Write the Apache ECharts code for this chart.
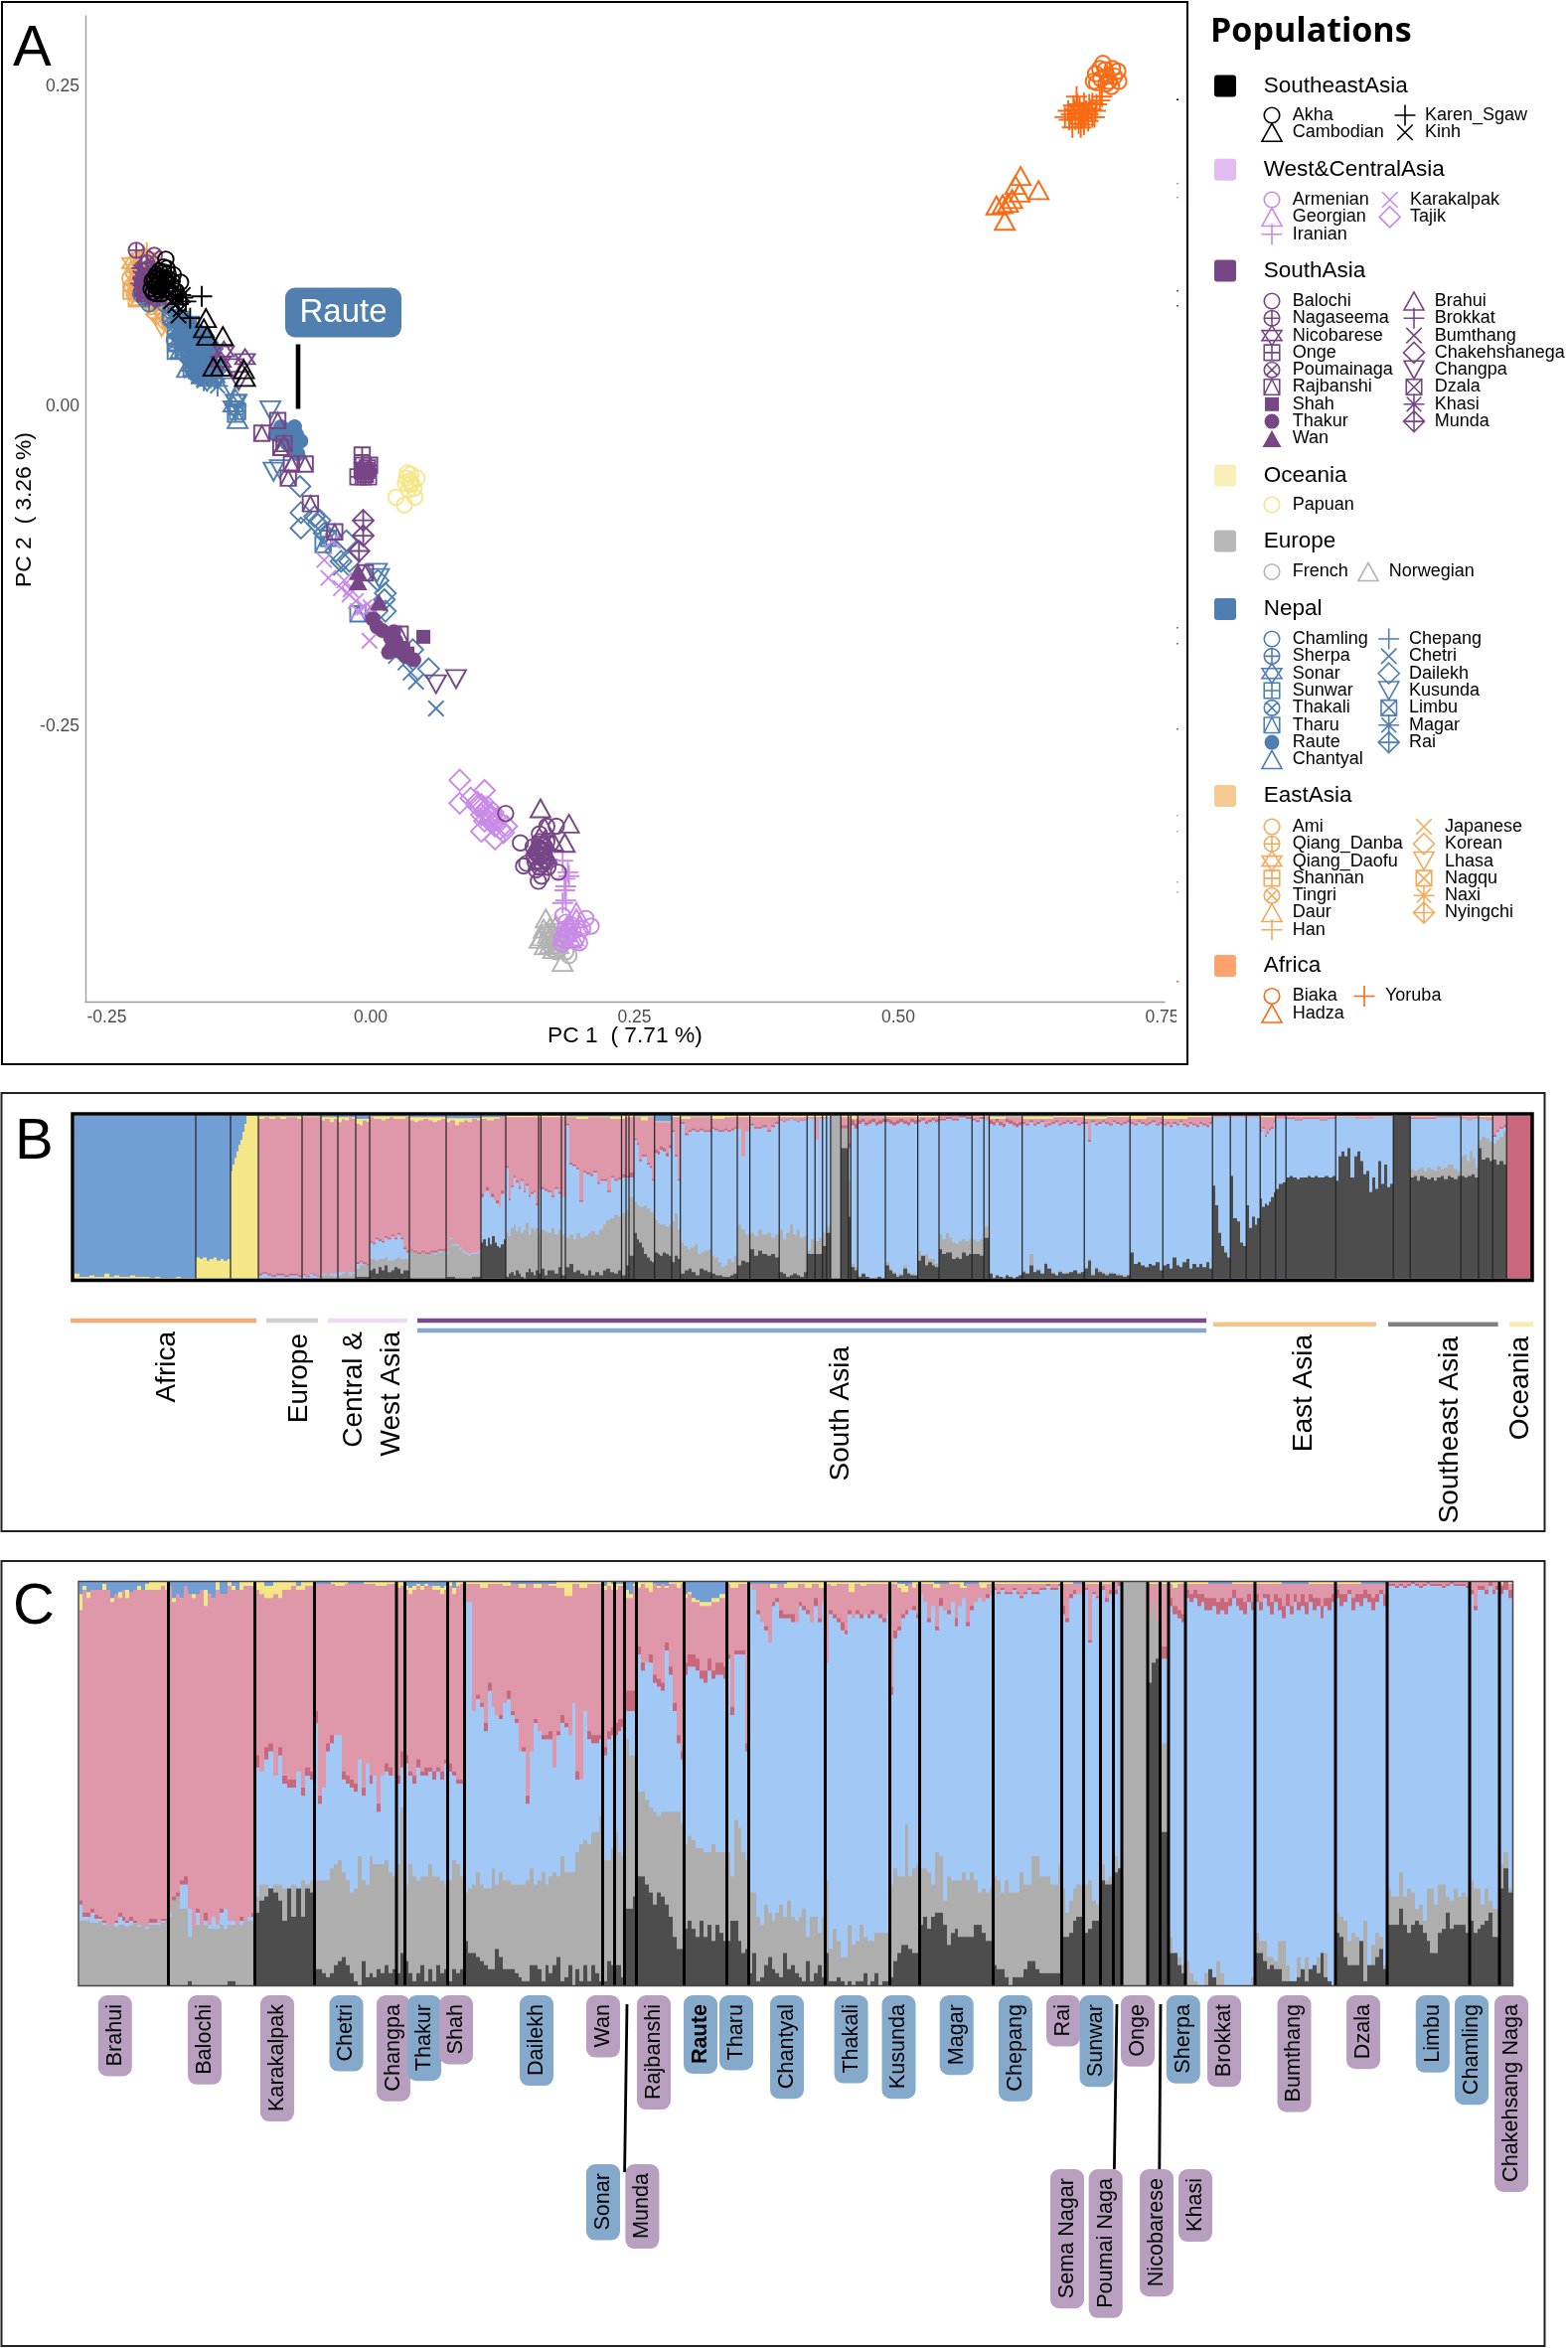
<!DOCTYPE html>
<html><head><meta charset="utf-8">
<script src="https://cdn.jsdelivr.net/npm/echarts@6/dist/echarts.min.js"></script>
<style>html,body{margin:0;padding:0;background:#fff}#c{width:1578px;height:2363px}</style></head>
<body><div id="c"></div><script>
// ---------- Panel A: PC1 / PC2 values per population ----------
const Akha=[[-.194,.115],[-.203,.103],[-.196,.101],[-.2,.106],[-.193,.098],[-.203,.088],[-.189,.095],[-.18,.097],[-.207,.098],[-.198,.093],[-.187,.103],[-.196,.109],[-.2,.096],[-.192,.104],[-.205,.1],[-.202,.096],[-.199,.1],[-.197,.095],[-.195,.098],[-.2,.091],[-.204,.094],[-.208,.092],[-.206,.089],[-.198,.088],[-.194,.092],[-.192,.1],[-.19,.09],[-.201,.102],[-.196,.105],[-.193,.108],[-.188,.098],[-.184,.09]];
const Cambodian=[[-.156,.069],[-.158,.061],[-.14,.055],[-.155,.055],[-.142,.031],[-.149,.031],[-.12,.029],[-.119,.023]];
const Karen_Sgaw=[[-.16,.086],[-.178,.085],[-.187,.09],[-.18,.087],[-.171,.069],[-.175,.082],[-.185,.086],[-.182,.08]];
const Kinh=[[-.185,.079],[-.178,.087],[-.189,.082],[-.182,.071],[-.185,.085],[-.18,.076]];
const Armenian=[[.204,-.40],[.209,-.406],[.181,-.42],[.182,-.398],[.195,-.416],[.188,-.41],[.198,-.419],[.185,-.403],[.201,-.408],[.181,-.416],[.19,-.405],[.186,-.415],[.192,-.41],[.184,-.408]];
const Georgian=[[.195,-.395],[.188,-.405],[.192,-.414],[.185,-.411],[.198,-.405],[.195,-.40],[.186,-.406],[.19,-.416],[.183,-.414]];
const Iranian=[[.184,-.369],[.182,-.388],[.187,-.364],[.185,-.375],[.168,-.354],[.185,-.386],[.182,-.355],[.188,-.367],[.184,-.378]];
const Karakalpak=[[-.036,-.105],[-.044,-.12],[-.04,-.134],[-.028,-.142],[-.02,-.147],[-.025,-.136],[-.014,-.152],[-.006,-.157],[-.012,-.16],[-.001,-.183],[0,-.157],[-.019,-.143]];
const Tajik=[[.0845,-.292],[.0845,-.31],[.108,-.3],[.101,-.309],[.105,-.311],[.11,-.318],[.115,-.32],[.105,-.332],[.118,-.338],[.126,-.333],[.129,-.328],[.121,-.323],[.113,-.324],[.101,-.312],[.108,-.316],[.116,-.317],[.111,-.313],[.105,-.319],[.095,-.306],[.112,-.32],[.118,-.328],[.108,-.324],[.123,-.33]];
const Balochi=[[.128,-.318],[.142,-.341],[.145,-.359],[.159,-.371],[.162,-.367],[.154,-.344],[.16,-.334],[.176,-.328],[.167,-.328],[.164,-.354],[.148,-.357],[.178,-.364],[.157,-.362],[.162,-.346],[.167,-.34],[.16,-.345],[.155,-.352],[.163,-.358],[.157,-.348],[.168,-.36],[.16,-.34],[.163,-.343],[.158,-.35],[.165,-.347],[.161,-.352],[.156,-.356],[.163,-.35],[.159,-.346],[.166,-.355],[.16,-.36]];
const Nagaseema=[[-.222,.122],[-.212,.112],[-.208,.104],[-.215,.096]];
const Nicobarese=[[-.139,.043],[-.119,.037],[-.142,.035]];
const Onge=[[-.008,-.038],[-.012,-.055],[-.001,-.046],[-.007,-.046],[-.004,-.05],[-.005,-.053],[-.008,-.05],[-.002,-.055],[-.007,-.055],[-.003,-.048],[-.006,-.051]];
const Poumainaga=[[-.205,.118],[-.21,.108],[-.214,.1],[-.2,.094]];
const Rajbanshi=[[-.103,-.021],[-.088,-.011],[-.082,-.029],[-.075,-.045],[-.062,-.045],[-.078,-.056],[-.057,-.076],[-.034,-.098],[-.005,-.13],[.028,-.178],[-.085,-.032]];
const Shah=[[.05,-.18],[.035,-.193],[.031,-.19]];
const Thakur=[[.002,-.166],[.006,-.172],[.011,-.175],[.022,-.176],[.024,-.183],[.017,-.192],[.026,-.191],[.033,-.195],[.041,-.198],[.02,-.188],[.019,-.181]];
const Wan=[[-.012,-.129],[-.012,-.137],[.008,-.153]];
const Brahui=[[.161,-.314],[.188,-.326],[.184,-.341],[.165,-.329],[.162,-.346],[.165,-.339],[.16,-.354],[.157,-.343],[.167,-.35],[.173,-.34]];
const Brokkat=[[-.217,.108],[-.212,.1],[-.207,.092],[-.21,.086],[-.204,.098]];
const Bumthang=[[-.215,.104],[-.209,.096],[-.203,.088],[-.212,.09],[-.198,.082],[-.218,.1],[-.215,.095],[-.212,.105],[-.209,.09],[-.207,.085]];
const Chakehshanega=[[-.214,.11],[-.207,.1],[-.211,.094],[-.205,.086],[-.215,.1],[-.212,.096]];
const Changpa=[[.081,-.213],[.062,-.217],[-.13,.03],[-.125,.02]];
const Dzala=[[-.213,.106],[-.208,.098],[-.212,.088],[-.204,.092],[-.216,.092],[-.214,.088],[-.21,.1],[-.208,.094]];
const Khasi=[[-.216,.1],[-.21,.092],[-.206,.106],[-.2,.086],[-.218,.096],[-.213,.092],[-.208,.088],[-.205,.094]];
const Munda=[[-.007,-.089],[-.007,-.101],[-.011,-.113]];
const Papuan=[[.032,-.077],[.024,-.071],[.042,-.071],[.035,-.052],[.038,-.053],[.044,-.056],[.033,-.06],[.038,-.061],[.041,-.064],[.036,-.065],[.034,-.056],[.037,-.058],[.039,-.06]];
const French=[[.188,-.429],[.176,-.421],[.17,-.417],[.179,-.424],[.182,-.42],[.185,-.426],[.174,-.413],[.177,-.419],[.168,-.41],[.172,-.424],[.178,-.41],[.175,-.418],[.18,-.415],[.172,-.415],[.183,-.412],[.176,-.426],[.169,-.42]];
const Norwegian=[[.182,-.434],[.16,-.416],[.166,-.40],[.172,-.41],[.165,-.421],[.176,-.405],[.173,-.424],[.17,-.407],[.162,-.414],[.168,-.412],[.174,-.416],[.178,-.42],[.164,-.408],[.17,-.42]];
const Chamling=[[-.19,.068],[-.182,.07],[-.176,.058],[-.17,.048],[-.163,.044],[-.157,.04],[-.152,.026]];
const Sherpa=[[-.218,.088],[-.214,.084],[-.21,.08],[-.2,.085],[-.195,.08],[-.19,.075],[-.18,.066],[-.174,.052],[-.168,.028]];
const Sonar=[[-.16,.025],[-.155,.02],[-.128,.005],[-.13,0]];
const Sunwar=[[-.128,-.006],[-.126,-.004],[-.185,.043],[-.16,.033],[-.17,.03]];
const Thakali=[[-.19,.07],[-.18,.058],[-.172,.05],[-.165,.042],[-.158,.036],[-.186,.052]];
const Tharu=[[-.178,.05],[-.012,-.162],[-.045,-.108],[-.04,-.103],[-.165,.028]];
const Raute=[[-.072,-.016],[-.066,-.027],[-.075,-.023],[-.081,-.018],[-.072,-.034],[-.069,-.037],[-.079,-.029],[-.085,-.016],[-.09,-.022],[-.078,-.02],[-.074,-.028],[-.07,-.022],[-.088,-.02]];
const Chantyal=[[-.174,.03],[-.16,.025],[-.148,.026],[-.126,-.01],[-.18,.045]];
const Chepang=[[-.168,.034],[-.156,.044],[-.15,.03],[-.142,.024],[-.17,.046],[-.18,.062],[-.166,.058]];
const Chetri=[[.062,-.236],[.043,-.215],[.038,-.208],[.033,-.2],[.024,-.195],[-.028,-.126],[-.085,-.03],[-.185,.06],[-.176,.05]];
const Dailekh=[[-.067,-.0625],[-.066,-.083],[-.066,-.095],[-.048,-.089],[-.053,-.086],[-.05,-.092],[-.044,-.099],[-.023,-.105],[-.033,-.113],[-.028,-.121],[-.02,-.121],[.014,-.146],[.013,-.151],[.014,-.16],[.04,-.19],[.055,-.205],[.007,-.136],[.006,-.16]];
const Kusunda=[[-.127,.002],[-.095,-.003],[-.092,-.051],[-.086,-.049],[-.133,.015],[.008,-.134],[.006,-.13]];
const Limbu=[[-.185,.06],[-.178,.062],[-.172,.055],[-.165,.05],[-.158,.046],[-.172,.042],[-.165,.038],[-.15,.04],[-.185,.05],[-.18,.068],[-.175,.06],[-.17,.064],[-.165,.056],[-.16,.05],[-.155,.038],[-.148,.03],[-.168,.036],[-.162,.028],[-.156,.024],[-.177,.046],[-.17,.04]];
const Magar=[[-.175,.05],[-.168,.045],[-.16,.04],[-.152,.032],[-.165,.03],[-.158,.028],[-.148,.022],[-.17,.035],[-.155,.035],[-.18,.048],[-.145,.016],[-.162,.052],[-.185,.064],[-.178,.056],[-.172,.06],[-.168,.052],[-.163,.047],[-.159,.05],[-.155,.042],[-.15,.036],[-.172,.047],[-.166,.04],[-.161,.034],[-.156,.03],[-.152,.025],[-.17,.028],[-.163,.024],[-.158,.02]];
const Rai=[[-.18,.055],[-.175,.065],[-.168,.06],[-.16,.055],[-.155,.05],[-.15,.045],[-.175,.04],[-.148,.035],[-.183,.063],[-.178,.052],[-.171,.052],[-.166,.046],[-.16,.044],[-.154,.04],[-.163,.036],[-.158,.032],[-.152,.028],[-.147,.028],[-.165,.026]];
const Ami=[[-.228,.1],[-.226,.094],[-.223,.108],[-.22,.115]];
const Qiang_Danba=[[-.225,.105],[-.222,.098],[-.218,.112]];
const Qiang_Daofu=[[-.226,.112],[-.22,.104],[-.216,.096]];
const Shannan=[[-.227,.09],[-.222,.093],[-.218,.106]];
const Tingri=[[-.224,.088],[-.218,.09],[-.214,.1]];
const Daur=[[-.215,.118],[-.21,.112],[-.205,.104],[-.218,.086]];
const Han=[[-.212,.12],[-.208,.11],[-.21,.098],[-.2,.09]];
const Japanese=[[-.215,.108],[-.208,.1],[-.205,.115]];
const Korean=[[-.212,.085],[-.205,.094],[-.21,.108]];
const Lhasa=[[-.195,.068],[-.2,.075],[-.205,.08],[-.19,.06],[-.198,.062]];
const Nagqu=[[-.222,.084],[-.21,.09],[-.2,.082]];
const Naxi=[[-.213,.095],[-.205,.088],[-.198,.078]];
const Nyingchi=[[-.21,.082],[-.203,.072],[-.196,.068]];
const Biaka=[[.694,.268],[.687,.26],[.703,.264],[.698,.258],[.702,.25],[.688,.253],[.709,.254],[.7,.254],[.691,.264],[.685,.254],[.705,.258],[.696,.263],[.708,.262],[.692,.256],[.697,.252]];
const Hadza=[[.616,.18],[.633,.169],[.601,.145],[.599,.158],[.615,.167],[.608,.162],[.593,.157],[.611,.173],[.604,.159]];
const Yoruba=[[.669,.242],[.658,.226],[.665,.218],[.676,.237],[.687,.231],[.68,.223],[.672,.229],[.691,.239],[.671,.221],[.684,.226],[.661,.231],[.678,.231],[.674,.225],[.667,.232],[.684,.237],[.693,.242],[.664,.228],[.668,.224],[.672,.234],[.676,.22],[.68,.228],[.683,.232],[.675,.228],[.67,.236],[.662,.224],[.677,.226],[.681,.236],[.673,.218],[.666,.235],[.688,.236],[.686,.226]];

// ---------- Panel B: admixture, one sub-list per population cluster (cumulative % tops) ----------
const B_size=[122.5,35,28,44,19,17,18,14,40,37,35,25,33,2.4,20.6,4,56.5,4.5,3,5,20.7,17.3,8.7,31.3,26,12.6,29.6,28,8,7.5,4.1,4.1,10.3,7.5,2.5,7,27.8,32.6,21.4,33.2,12,5.3,33.2,62.5,46,33,50,18,16,14,15.6,10.4,50,58,17,51,17.7,14.3,14,24.7];
const B_dark=[[],[],[],[],[],[],[],[1],[5,6,3,7,5,8,4,5,7,6,3,5,5],[],[1,0,0,1],[22,24,20,25,21,26,22,20,19,21,24],[1,3,4,2,5,3,1,0,4,6,4,2,5],[3],[6,2,5,5,3,7],[2],[7,9,4,5,3,2,5,2,4,2,5,6,4,3,5],[2],[8],[14],[28,24,22,19,15,13,11,10],[16,15,14,16,15,14],[10,14,12],[3,5,6,4,2,6,5,4],[3,2,2,1,1,2,3],[8,11,10],[18,14,17,15,14,15,13],[4,3,1,2,3,2,1,4],[15],[15],[20],[28],[],[80],[38],[7,5],[1,3,1,0,0,1,0],[8,5,3,1,2,6,3,2,2],[11,14,8,10,8,7],[18,15,16,16,12,13,12,16,14,15],[15,15,14],[25],[3,0,2,1,0,2,1,0,1,2],[4,3,8,4,5,3,9,6,3,2,4,3,3,4,5,3,4],[6,11,2,6,4,3,2,3,3,2,2,1,2],[16,9,10,8,7,9,8,10,5],[8,9,6,13,8,7,10,12,6,9,7,9,7,10,6],[57,45,28,20,16,13],[63,37,35,22,20],[45,31,38,33,37],[49,44,46,45,47,50,53],[55,58,59],[62,63,62,61,62,62,63,62,63,62,62,63,62,63],[60,75,78,75,80,62,75,78,72,64,66,53,62,55,72,58,70,56,58],[100],[62,63,60,63,62,61,62,60,62,63,61,63,62,61,63],[63,62,63,64,62],[80,73,74,72],[73,70,72,70],[]];
const B_grey=[[],[],[],[],[],[2,3,2,1],[2,3,4,2,3],[6,8,9,8],[12,12,11,12,12,13,11,11,12,13,12,12,12],[17,16,15,16,15,16,15,16,17],[15,24,20,20,18,16,15,14,15,15,16],[],[28,26,31,33,29,32,28,30,34,27,31,30,31],[28],[30,29,28,31,27,30],[27],[25,27,24,28,25,26,28,29,27,30,33,36,37,39,38],[40],[42],[50],[47,45,44,44,45,43,41,41],[36,34,33,33,32,33],[35,40,30],[22,20,18,19,21,15,16,17,18],[14,13,10,7,8,12,10,14],[33,30,27],[28,26,30,27,28,25,27],[30,24,28,33,27,30,25,26],[17,24],[23,25],[28],[32],[100],[92],[60],[9,7],[2,3,1,0,0,1,0],[10,6,4,2,3,8,4,3,2],[17,10,15,12,12,9],[27,24,28,25,22,21,23,24,23,24],[24,23,24],[32],[3,1,2,1,1,2,1,0,1,2],[5,3,15,4,6,3,10,6,4,2,5,3,4,4,5,4,4],[7,12,3,7,5,4,3,4,3,3,2,2,2],[],[],[],[],[],[],[],[],[],[],[67,66,67,68,66,68,67,66,69,67,68,70,70,67,66],[75,76,72,78,74,68],[85,87,86,84],[83,85,87,90],[]];
const B_blue=[[],[],[],[2,3,2,1,2,2,1,2,2,1],[2,1,3,2,1],[3],[4],[9,10,9,8],[22,21,24,23,22,25,24,26,24,27,24,18,16],[17,16,15,16,15,16,16,17,17],[16,25,21,21,19,17,16,15,16,16,17],[50,53,54,52,50,48,46,44,52,52],[68,48,56,62,59,55,60,53,57,50,52,53,45],[55],[55,54,53,50,55,52],[50],[94,70,69,67,47,65,64,63,65,58,60,60,53,62,60,61],[62],[62],[62],[85,82,72,75,75,70,68,60],[77,76,79,78,75,80],[90,75,60],[95,88,90,91,90,91,90,90],[92,91,90,90,91,90,91,92],[92,75,90],[94,92,92,93,90,93,95],[97,96,97,98,97,96,97,97],[98],[85,98],[98],[99],[],[92],[80],[94,92],[95,96,94,95,96,94,95,96],[96,95,94,95,96,95,94,96,95],[96,97,95,96,97,96],[97,98,97,99,98],[97,96,98],[97],[95,94,96,94,93,96,95,94,93,94],[95,94,96,94,95,96,93,94,95,96,94,95,96,95,96,94,95],[95,84,96,94,95,96,95,94,96,95,94,95,96],[95,94,96,95,94,95,96,94,95],[94,95,93,95,94,96,94,93,95,94,93,95,94,93,95],[99],[99],[99],[90,92,87,89,91,92,96],[98],[98,97,98,98,97,98],[99,98,99],[],[98,99],[98,97,98],[98,97],[87,90,92,93],[]];
const B_rose=[[],[],[],[1],[.5],[],[],[1],[1],[1],[],[2,0,2,0,2,0,2,0,2,0],[1],[],[1],[],[1],[2],[1],[3],[1],[2],[1],[1],[1],[],[1],[.5],[],[],[],[],[],[2],[3],[3],[2],[2],[1.5],[1],[1],[],[2],[1],[1],[1],[1],[],[],[],[1],[],[.5],[],[],[.5],[],[],[1],[100]];
const B_pink=[[],[],[],[98,99,98,99,98,99,99,98],[99],[97,98,96,98],[96,98,97,99,98],[95,94,97,96],[99,98,98,97,98,99,98,98,98,99],[97,96,97,98,97,96,97,98],[96,97,94,96,97,96,98,97],[98,97,98,99],[99],[99],[99],[99],[99,98,99,99,98],[98],[99],[99],[99,97,99],[96],[99],[98,99,99],[98,99],[99],[99],[99],[99],[99],[99],[99],[],[99],[99],[98],[99],[99],[99],[100],[99.5],[99.5],[98,99],[98,99],[98,99],[98,99],[98,99],[100],[100],[100],[99],[100],[99.5],[99.5],[],[99.5],[99.5],[99],[100],[]];
const B_yellow=[[3,1,1,2,1,1,3,1,2,1,1,2,1,1,1,.5,1,.5,.5,.5,1,.5,.5,.5],[13,12,13,11,12,13,11,12,11,12],[66,70,74,78,82,85,90,95,100,100,100,100,100,100],[99.5],[99.5],[99],[99],[98],[99.5],[99],[98.5],[99],[100],[100],[100],[100],[99.5],[100],[100],[100],[99.5],[96.5],[100],[99.5],[100],[100],[100],[100],[100],[100],[100],[100],[],[100],[100],[100],[99.5],[100],[100],[],[100],[100],[99.5],[99.5,100],[99.5,100],[100],[100],[],[],[],[100],[],[100],[100],[],[100],[100],[100],[],[]];

// ---------- Panel C: admixture by population ----------
const C_names=["Brahui","Balochi","Karakalpak","Chetri","Changpa","Thakur","Shah","Dailekh","Wan","Sonar","Munda","Rajbanshi","Raute","Tharu","Chantyal","Thakali","Kusunda","Magar","Chepang","Rai","Sunwar","Sema Nagar","Poumai Naga","Onge","Nicobarese","Khasi","Sherpa","Brokkat","Bumthang","Dzala","Limbu","Chamling","Chakehsang Naga"];
const C_size=[90,87,60,82.5,8.5,43,17,139,12,10,12,48,43,22,77,65,30,74,69,22,17,13,8.5,26,12.5,8.5,17,70,81,52,83,30,13];
const C_nepal=["Chetri","Thakur","Dailekh","Sonar","Raute","Tharu","Chantyal","Thakali","Kusunda","Magar","Chepang","Sunwar","Sherpa","Limbu","Chamling"];
const C_dark=[[],[0,0,0,0,0,1,0,0,0,0,0,0,0,0,0,1,1,0,0,0,0,0],[18,21,22,24,23,21,16,24,17,24,17,24,23],[4,4,3,2,3,5,6,7,5,3,1,0,6,2,3,2,4,3,5,3,4],[3,8],[6,3,1,3,5,1,4,1,5,3,4],[1,4,3,4],[11,8,8,7,6,5,4,4,9,7,4,4,4,3,2,1,1,5,5,4,1,5,3,5,7,1,2,5,0,4,1,5,1,5,3,1],[1,6,5],[5,5,2],[19,19,22],[27,27,25,23,20,23,22,20,17,12,9,9],[14,16,14,12,16,12,15,11,15,13,11],[11,16,16,11,8,9],[3,8,1,2,5,7,4,3,2,8,4,5,3,2,1,6,1,3,5,2],[8,1,1,2,1,0,1,0,1,1,3,0,1,3,0,1,1],[2,6,8,10,10,9,8,8],[15,17,14,17,18,18,15,10,13,14,12,12,12,12,15,15,13,11,11],[5,4,4,2,0,2,2,2,4,6,6,4,3,3,3,3,3,3],[12,12,13,16,17,17],[13,14,16,16],[26,25,25],[28,29],[],[75,80,81],[38],[8,8,5,3],[0,0,0,0,0,0,4,2,0,0,0,0,0,0,0,0,0,0],[8,8,6,4,5,4,4,1,1,1,1,2,4,1,4,5,3,8,2,1,0],[13,12,7,5,5,5,11,1,5,5,7,9,4],[15,15,15,19,15,13,15,16,15,13,11,8,8,13,14,18,14,15,15,15,13],[16,13,14,15,16,18,12,12],[24,29,23]];
const C_grey=[[16,16,16,15.5,15.5,16,15,15,15,14.5,15,15,14.5,15,15.5,14.5,15,14,15,15,15,15.5,16],[17,21,22,19,19,12,14,15,15,15,14,14,14,15,14,15,15,15,15,16,16,16],[22,25,25,24,25,25,24,19,25,18,26,25,26],[26,26,26,26,29,30,31,28,26,23,24,32,26,25,32,30,30,30,31,28,27],[30,44],[25,30,27,26,27,27,30,27,27,26,25],[26,31,30,27],[23,24,25,28,25,24,24,29,25,28,26,26,25,25,25,25,26,29,25,26,28,25,27,28,27,32,28,28,28,33,35,36,35,38,38,42],[31,31,34],[38,33,32],[61,57,57],[48,48,46,44,43,42,43,43,43,43,43,40],[35,37,36,34,34,33,33,35,33,33,33],[33,27,41,39,33,31],[23,23,17,15,20,18,16,18,20,17,21,17,16,17,19,12,17,17,13,17],[26,9,14,11,7,7,15,10,11,15,12,11,11,13,13,13,13],[25,29,27,27,40,27,29,30],[29,29,28,25,33,32,21,27,26,26,26,28,26,28,26,23,24,23,24],[27,26,23,26,23,23,23,28,25,25,32,32,27,27,27,25,25,30],[24,18,21,24,25,25],[25,26,21,20],[30,26,27],[32,29],[100],[92,95,90],[60],[12,8,7,5],[6,3,1,0,0,3,0,0,6,3,0,0,0,0,0,0,0,2],[13,11,11,7,7,6,11,11,5,1,1,7,2,7,4,2,7,8,8,1,0],[18,17,16,11,13,12,10,16,3,10,13,12,5],[24,22,22,28,22,24,23,19,20,16,24,24,20,25,25,22,21,24,22,23,22],[26,24,24,20,24,21,19,19],[30,33,24]];
const C_blue=[[20,17,17,18,16.5,16.5,15.5,15,15,15.5,17,16,15.5,16,15.5,15,15,14.5,15.5,15.5,15.5,16,16],[18,21,22,25,25,19,13,18,15,16,15,17,15,18,19,16,16,15,16,16,17,17],[54,53,56,58,52,57,50,49,49,53,47,52,51],[65,45,49,58,60,62,62,51,50,49,48,56,47,55,50,52,43,52,53,52,52],[50,54],[55,52,50,54,52,52,53,51,53,51,55],[53,52,50,50],[95,95,68,71,69,63,73,69,67,66,70,71,67,65,58,58,45,58,65,63,61,61,61,54,62,65,64,62,70,51,51,68,61,60,60,61],[57,61,62],[62,63,64],[68,68,68],[82,78,80,80,75,74,73,83,77,68,60,56],[77,79,79,78,76,75,78,76,77,77,76],[81,67,82,82,82,58],[99,98,92,90,88,85,94,95,91,91,91,90,90,94,93,92,90,94,90,95],[80,92,91,90,88,87,92,91,92,91,92,91,92,92,91,90,92],[72,86,88,91,92,93,93,91],[97,95,90,94,88,94,93,92,95,89,94,96,89,93,95,96,95,96,97],[98,97,98,97,97,98,97,96,97,98,97,97,98,98,99,98,98,99],[92,90,96,97,97,97],[98,85,97,96],[98,95,97],[97,99],[],[],[81],[94,92,91,90],[96,95,96,94,95,93,93,94,92,93,92,94,96,94,93,92,95,93],[95,93,96,94,92,95,93,91,94,92,95,93,94,92,95,93,94,91,94,93,95],[96,94,95,97,93,95,94,96,95,93,95,97,94],[99,99,98.5,99,98.5,99,99.5,99,98.5,99,99.5,99,99,99,98.5,99,99.5,99,99,99,98.5],[97,93,98,98,97,99,97,98],[97,98,96]];
const C_rose=[[1,1,1,1,1,.5,.5,0,0,.5,1,1,.5,1,.5,0,0,0,1,1,0,.5,.5],[0,1,1,1,2,0,0,1,0,2,0,0,0,1,0,0,0,0,1,0,0,1],[3,0,3,2,0,2,2,2,2,0,2,2,2],[3,2,0,2,2,0,0,2,2,2,2,0,2,0,2,0,2,0,2,2,0],[2,4],[2,1,2,2,1,2,1,2,1,2,1],[2,1,1,1],[0,0,0,1,1,2,2,0,0,1,0,2,1,1,0,1,2,0,1,0,1,1,2,0,1,2,1,0,0,2,0,0,2,2,2,1],[2],[3,3,2],[5,5,5],[2,2,0,2,2,2,2,2,2,2,2,2],[3,3,3,3,2,3,3,2,3,3,3],[1,2,1,1,1,2],[0,0,1,0,1,0,1,1,2,1,1,2,0,1,1,1,0,2,1,0],[0,1,1,1,2,1,1,0,1,1,0,1,1,0,1,1,0],[2,2,1,1,1,0,1,1],[0,0,1,0,1,2,0,1,0,2,0,0,1,1,0,0,0,1,0],[.5],[2,1,1,1],[.5],[1],[1],[],[2],[3],[2],[2,2,2,3,2,3,3,2,3,3,3,2,2,2,3,3,2,2],[2,2,1,3,3,2,3,3,3,2,2,2,3,3,2,3,2,3,2,3,2],[2,3,2,1,3,2,3,2,2,3,2,1,3],[.5],[1],[2]];
const C_pink=[[93,98,96,98,98,98,98,98,95,97,96,98,96,97.5,98,98,98,98,98,98,98,99,98],[99,95,97,96,99,97,96,97,98,94,97,96,98,97,97,99,98,98,98,99,99,99],[98,97,96,96,97,96,98,98,99,98,98,99,99],[99.5,99.5,99,99.5,99.5,99.5,99,99.5],[98.5,99],[98,97,98,99,98,99,99,98,98,97,98],[99,97,99,99.5],[99.5,99.5,98.5,99.5,99.5,99,99.5,98.5,99.5,98.5,99.5,99,98.5,96.5,99.5,98.5,99.5,99.5],[98,99,98],[98,99,99],[96,96,99],[98.5,99.5,98.5,97.5,99.5,98.5,99.5,98.5,99.5,99.5,98.5,99.5],[96,97,95,95,94,94,94,95,95,96,96],[99.5,98.5,98.5,99.5,99.5,99.5],[99.5,99.5,99.5,98.5,99.5,98.5,98.5,99.5,98.5,99.5,98.5],[99.5,99,99.5,99.5,97.5,99.5,99,99.5,99.5,99.5,99.5],[99.5,99.5,98.5,97.5,97.5,99.5,98.5,99.5],[99.5,99.5,98.5,99.5,99.5,99.5,98.5,99.5,99.5,98.5,99.5],[99.5],[99.5],[99.5],[99.5],[100],[],[99.5],[99.5],[99.5,98.5,99.5,99.5],[99.5],[99.5],[99.5],[100],[100],[99.5]];
const C_yellow=[[97,99,97.5,96,96,96,99.5,96,96,96,97.5,96,98,96,96,99,96,99.5,100,100,100,100,100],[96,96,96,96,99,94,97,96,96,98,97,96,100,96,96,100,99,96,100,100,100,100],[100,100,99,99,100,100,100,100,100,99,100,100,100],[99.5,100,99,100,100],[100],[99,98.5,99,99.5,99,99.5,99,99,99,98.5,99],[100,98.5,100,100],[100,99.5,100],[99,100,99.5],[99.5],[98,97,99.5],[100,99,100],[97,97.5,96,95.5,95,95,95,96,96,97,97],[100],[99.5,100],[100],[100,99.5,99,100],[100,99.5,100,99,100],[100],[100,99.5],[100],[100],[],[],[100],[100],[100],[100,99.5,100],[100,99.5,100],[100,99.5],[],[],[100]];

// ---------- text ----------
const C_row2=["Sonar","Munda","Sema Nagar","Poumai Naga","Nicobarese","Khasi"];
const C_labelX=[115.8,206,279,348.5,396,427,459,540,607,607,646.4,658,705,741,792,856.6,904.5,962.7,1022,1070,1103.5,1074,1112.7,1145,1164,1203,1190.8,1232,1302.5,1372,1441.8,1481,1521];
const B_regions=[["Africa",168.5,1340],["Europe",301,1342],["Central &",356,1340],["West Asia",394.5,1340],["South Asia",846.5,1355],["East Asia",1312.5,1343],["Southeast Asia",1459,1345],["Oceania",1530.5,1345]];
const B_bars=[[71,258,1329,"#f9a878"],[268,320,1329,"#cfcfcf"],[330,410,1329,"#eed9f5"],[420,1214,1329,"#7b4b8c"],[420,1214,1339,"#84a9c9"],[1221,1385,1332.7,"#f5c68b"],[1397,1507.6,1332.7,"#808080"],[1519,1543,1332.7,"#f8ecac"]];
const A_edge=[[99.5,'#000'],[184,'#c98ae8'],[198,'#c98ae8'],[292,'#774687'],[307,'#774687'],[631,'#4f7fb0'],[647,'#4f7fb0'],[733,'#4f7fb0'],[820,'#f0ab5c'],[836,'#f0ab5c'],[887,'#f0ab5c'],[897,'#f0ab5c'],[987,'#f96a12']];

const COL={dark:'#4d4d4d',grey:'#aeaeae',blue:'#a2c9f6',rose:'#c9677c',pink:'#df97aa',yellow:'#f5e788',steel:'#719fd5'};
const S={
 circle:['path://M10 5A5 5 0 1 1 0 5A5 5 0 1 1 10 5Z',[15.5,15.5]],
 triUp:['path://M5 0L10 9L0 9Z',[20,18]],
 triDown:['path://M0 0L10 0L5 9Z',[20,18]],
 plus:['path://M5 0L5 10M0 5L10 5',[21,21]],
 cross:['path://M0 0L10 10M10 0L0 10',[15.5,15.5]],
 diamond:['path://M5 0L10 5L5 10L0 5Z',[21,21]],
 sqX:['path://M0 0L10 0L10 10L0 10ZM0 0L10 10M10 0L0 10',[15.5,15.5]],
 star:['path://M5 0L5 10M0 5L10 5M1.5 1.5L8.5 8.5M8.5 1.5L1.5 8.5',[21,21]],
 diaPlus:['path://M5 0L10 5L5 10L0 5ZM5 0L5 10M0 5L10 5',[21,21]],
 cirPlus:['path://M10 5A5 5 0 1 1 0 5A5 5 0 1 1 10 5ZM5 0L5 10M0 5L10 5',[15.5,15.5]],
 david:['path://M0 7.5L5 0L10 7.5ZM0 2.5L10 2.5L5 10Z',[20,20]],
 sqPlus:['path://M0 0L10 0L10 10L0 10ZM5 0L5 10M0 5L10 5',[15.5,15.5]],
 cirX:['path://M10 5A5 5 0 1 1 0 5A5 5 0 1 1 10 5ZM1.46 1.46L8.54 8.54M8.54 1.46L1.46 8.54',[15.5,15.5]],
 sqTri:['path://M0 0L10 0L10 10L0 10ZM0 10L5 0L10 10',[15.5,15.5]],
 fSq:['path://M0 0L10 0L10 10L0 10Z',[14,14],1],
 fCir:['path://M10 5A5 5 0 1 1 0 5A5 5 0 1 1 10 5Z',[15,15],1],
 fTri:['path://M5 0L10 9L0 9Z',[19,17],1]
};
const LEG=[
{t:'Europe',c:'#b3b3b3',sw:'#b8b8b8',y:544.6,y0:575.5,st:17,x2:[1377,1397.7],a:[['French','circle',French]],b:[['Norwegian','triUp',Norwegian]]},
{t:'EastAsia',c:'#f0ab5c',sw:'#f5cb93',y:801,y0:832,st:17.3,x2:[1433,1454],a:[['Ami','circle',Ami],['Qiang_Danba','cirPlus',Qiang_Danba],['Qiang_Daofu','david',Qiang_Daofu],['Shannan','sqPlus',Shannan],['Tingri','cirX',Tingri],['Daur','triUp',Daur],['Han','plus',Han]],b:[['Japanese','cross',Japanese],['Korean','diamond',Korean],['Lhasa','triDown',Lhasa],['Nagqu','sqX',Nagqu],['Naxi','star',Naxi],['Nyingchi','diaPlus',Nyingchi]]},
{t:'Nepal',c:'#4f7fb0',sw:'#4f7fb0',y:613,y0:643,st:17.35,x2:[1397.7,1418],a:[['Chamling','circle',Chamling],['Sherpa','cirPlus',Sherpa],['Sonar','david',Sonar],['Sunwar','sqPlus',Sunwar],['Thakali','cirX',Thakali],['Tharu','sqTri',Tharu],['Raute','fCir',Raute],['Chantyal','triUp',Chantyal]],b:[['Chepang','plus',Chepang],['Chetri','cross',Chetri],['Dailekh','diamond',Dailekh],['Kusunda','triDown',Kusunda],['Limbu','sqX',Limbu],['Magar','star',Magar],['Rai','diaPlus',Rai]]},
{t:'West&CentralAsia',c:'#c98ae8',sw:'#e2bbf0',y:170.7,y0:201,st:17.4,x2:[1398.7,1419],a:[['Armenian','circle',Armenian],['Georgian','triUp',Georgian],['Iranian','plus',Iranian]],b:[['Karakalpak','cross',Karakalpak],['Tajik','diamond',Tajik]]},
{t:'SouthAsia',c:'#774687',sw:'#774687',y:272.5,y0:303,st:17.3,x2:[1423,1443.7],a:[['Balochi','circle',Balochi],['Nagaseema','cirPlus',Nagaseema],['Nicobarese','david',Nicobarese],['Onge','sqPlus',Onge],['Poumainaga','cirX',Poumainaga],['Rajbanshi','sqTri',Rajbanshi],['Shah','fSq',Shah],['Thakur','fCir',Thakur],['Wan','fTri',Wan]],b:[['Brahui','triUp',Brahui],['Brokkat','plus',Brokkat],['Bumthang','cross',Bumthang],['Chakehshanega','diamond',Chakehshanega],['Changpa','triDown',Changpa],['Dzala','sqX',Dzala],['Khasi','star',Khasi],['Munda','diaPlus',Munda]]},
{t:'Oceania',c:'#f5e78a',sw:'#f8f0b8',y:478.6,y0:508,st:17,x2:[0,0],a:[['Papuan','circle',Papuan]],b:[]},
{t:'Africa',c:'#f96a12',sw:'#ffa26e',y:972,y0:1002.5,st:17.5,x2:[1373,1394],a:[['Biaka','circle',Biaka],['Hadza','triUp',Hadza]],b:[['Yoruba','plus',Yoruba]]},
{t:'SoutheastAsia',c:'#000',sw:'#000',y:86.5,y0:116,st:17.2,x2:[1414,1434],a:[['Akha','circle',Akha],['Cambodian','triUp',Cambodian]],b:[['Karen_Sgaw','plus',Karen_Sgaw],['Kinh','cross',Kinh]]}
];

const FONT='"Liberation Sans",Arial,sans-serif';
const series=[],gfx=[];
const T=(text,x,y,size,o={})=>gfx.push(Object.assign({type:'text',x,y,z:100,silent:true,style:Object.assign({text,font:`${o.weight||'normal'} ${size}px ${o.family||FONT}`,fill:o.fill||'#000',align:o.align||'left',verticalAlign:'middle'},o.style||{})},o.rotation?{rotation:o.rotation}:{}));
const R=(x,y,w,h,fill,stroke,lw,r)=>gfx.push({type:'rect',z:99,silent:true,shape:{x,y,width:w,height:h,r:r||0},style:{fill:fill||'none',stroke:stroke||'none',lineWidth:lw||0}});

function mark(data,shape,color,xi,name){const s=S[shape];series.push({type:'scatter',name,xAxisIndex:xi,yAxisIndex:xi,data,symbol:s[0],symbolSize:s[1],silent:true,clip:false,
 itemStyle:{color:s[2]?color:'transparent',borderColor:color,borderWidth:s[2]?0:(xi==3?1.6:1.9),opacity:1},z:xi==3?60:5});}
LEG.forEach(g=>{
 [...g.a,...g.b].forEach(it=>mark(it[2],it[1],g.c,0,it[0]));
 R(1222,g.y-11,22,22,g.sw,null,0,3);
 T(g.t,1271.7,g.y,22.5);
 g.a.forEach((it,i)=>{const y=g.y0+i*g.st;mark([[1280,y]],it[1],g.c,3,it[0]+' key');T(it[0],1300.7,y,18);});
 g.b.forEach((it,i)=>{const y=g.y0+i*g.st;mark([[g.x2[0],y]],it[1],g.c,3,it[0]+' key');T(it[0],g.x2[1],y,18);});
});

function layer(ax,rows,color,z){series.push({type:'custom',xAxisIndex:ax,yAxisIndex:ax,silent:true,z,data:rows,encode:{x:[0,1],y:2},clip:true,
 renderItem:(p,api)=>{const a=api.coord([api.value(0),0]),b=api.coord([api.value(1),api.value(2)]);const x0=Math.round(a[0]),x1=Math.round(b[0]);return {type:'rect',shape:{x:x0,y:b[1],width:x1-x0,height:a[1]-b[1]},style:{fill:color}};}});}
function rows(sizes,arr){const out=[];let s=0;sizes.forEach((w,k)=>{const a=arr[k]||[];a.forEach((v,i)=>out.push([s+w*i/a.length,s+w*(i+1)/a.length,v]));s+=w;});return out;}
function roseRows(sizes,blue,rose){const out=[];let s=0;sizes.forEach((w,k)=>{const b=blue[k].length?blue[k]:[0],r=rose[k];if(r.length)b.forEach((v,i)=>{const th=r.length==1?r[0]:(r[i]||0);if(th)out.push([s+w*i/b.length,s+w*(i+1)/b.length,v+th]);});s+=w;});return out;}
function panel(ax,size,D,G,Bl,Ro,P,Y,sepW,sepC){
 const tot=size.reduce((a,b)=>a+b,0);
 layer(ax,[[0,tot,100]],COL.steel,10);layer(ax,rows(size,Y),COL.yellow,11);layer(ax,rows(size,P),COL.pink,12);
 layer(ax,roseRows(size,Bl,Ro),COL.rose,13);layer(ax,rows(size,Bl),COL.blue,14);layer(ax,rows(size,G),COL.grey,15);layer(ax,rows(size,D),COL.dark,16);
 const edges=[];let s=0;size.slice(0,-1).forEach(w=>{s+=w;edges.push([s]);});
 series.push({type:'custom',xAxisIndex:ax,yAxisIndex:ax,silent:true,z:20,data:edges,encode:{x:0},
  renderItem:(p,api)=>{const a=api.coord([api.value(0),0]),b=api.coord([api.value(0),100]);return {type:'line',shape:{x1:a[0],y1:a[1],x2:b[0],y2:b[1]},style:{stroke:sepC,lineWidth:sepW}};}});
 return tot;
}
const totB=panel(1,B_size,B_dark,B_grey,B_blue,B_rose,B_pink,B_yellow,1.2,'#222');
const totC=panel(2,C_size,C_dark,C_grey,C_blue,C_rose,C_pink,C_yellow,3,'#000');

R(2,2,1193,1069,null,'#000',2);R(1.5,1100,1553,441,null,'#222',2);R(1.5,1571,1553,790,null,'#222',2);
R(73,1121,1469,167.5,null,'#000',3.5);R(79,1591.5,1443.5,407,null,'#444',1.5);
R(1184,1012,9,24,'#fff');
A_edge.forEach(e=>R(1184,e[0],2,1.6,e[1]));
T('A',13,50,58);T('B',15,1150,58);T('C',13,1618,58);
T('Populations',1218,32.5,34,{weight:'bold',family:'"Open Sans",sans-serif'});
T('PC 1  ( 7.71 %)',629,1043,22.8,{align:'center'});
T('PC 2  ( 3.26 %)',25,513,22.8,{align:'center',rotation:Math.PI/2});
R(287,289.5,117,50,'#5180b0',null,0,10);T('Raute',345.5,314.5,33,{align:'center',fill:'#fff'});
R(297.7,346.5,4.6,65,'#000');
B_bars.forEach(b=>R(b[0],b[2]-2.3,b[1]-b[0],4.6,b[3]));
B_regions.forEach(r=>T(r[0],r[1],r[2],28,{align:'right',rotation:Math.PI/2}));
C_names.forEach((n,i)=>{const row2=C_row2.includes(n);let top=row2?(i>=21?2183:2178):2008;
 T(n,C_labelX[i],top,21.6,{align:'right',rotation:Math.PI/2,weight:n=='Raute'?'bold':'normal',style:{backgroundColor:C_nepal.includes(n)?'#85a9cb':'#b89fc0',padding:[7.5,9,4.5,10],borderRadius:9,lineHeight:22}});});
[[631,2017,628.6,2186],[1124,2017,1121.4,2183],[1168,2017,1166.8,2183]].forEach(l=>gfx.push({type:'line',z:101,silent:true,shape:{x1:l[0],y1:l[1],x2:l[2],y2:l[3]},style:{stroke:'#000',lineWidth:2.8}}));

const hidden={show:false};
const chart=echarts.init(document.getElementById('c'));
chart.setOption({animation:false,backgroundColor:'#fff',
 grid:[{left:86,top:16,width:1086,height:992},{left:74.5,top:1122.7,width:totB,height:164},{left:79.5,top:1592,width:totC,height:406},{left:0,top:0,width:1578,height:2363,show:false}],
 xAxis:[{type:'value',gridIndex:0,min:-.2702,max:.7524,splitLine:hidden,axisTick:hidden,axisLine:{onZero:false,lineStyle:{color:'#999',width:1.3}},
   axisLabel:{customValues:[-.25,0,.25,.5,.75],formatter:v=>v.toFixed(2),color:'#4d4d4d',fontSize:17.5,fontFamily:FONT,margin:7}},
  {type:'value',gridIndex:1,min:0,max:totB,show:false},{type:'value',gridIndex:2,min:0,max:totC,show:false},{type:'value',gridIndex:3,min:0,max:1578,show:false}],
 yAxis:[{type:'value',gridIndex:0,min:-.465,max:.3051,splitLine:hidden,axisTick:hidden,axisLine:{onZero:false,lineStyle:{color:'#999',width:1.3}},
   axisLabel:{customValues:[-.25,0,.25],formatter:v=>v.toFixed(2),color:'#4d4d4d',fontSize:17.5,fontFamily:FONT,margin:6}},
  {type:'value',gridIndex:1,min:0,max:100,show:false},{type:'value',gridIndex:2,min:0,max:100,show:false},{type:'value',gridIndex:3,min:0,max:2363,inverse:true,show:false}],
 series,graphic:{elements:gfx}});
</script></body></html>
